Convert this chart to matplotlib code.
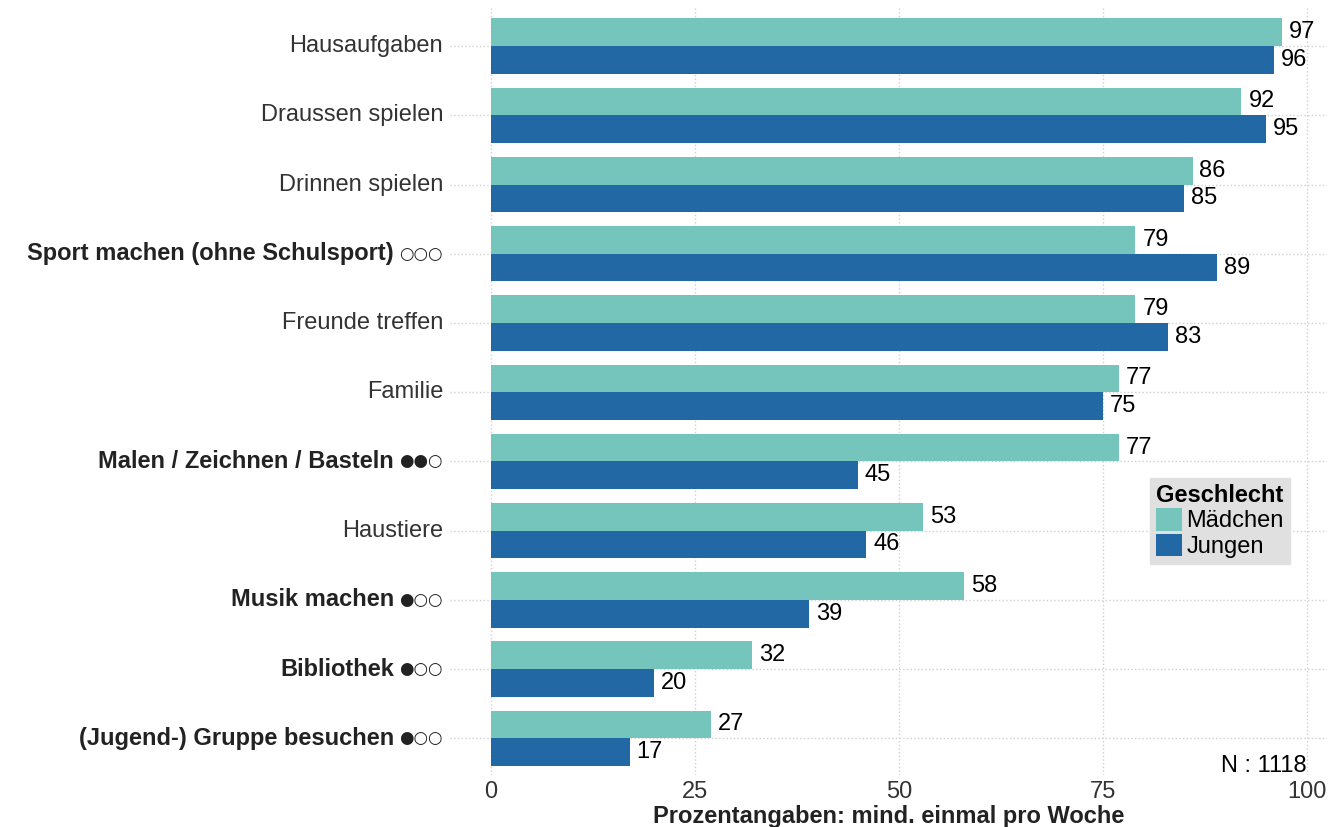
import matplotlib
matplotlib.use('Agg')
import matplotlib.pyplot as plt
import numpy as np

plt.rcParams['font.family'] = ['Liberation Sans', 'DejaVu Sans']

# Daten
aktivitaeten = ['Hausaufgaben', 'Draussen spielen', 'Drinnen spielen',
                'Sport machen (ohne Schulsport)', 'Freunde treffen', 'Familie',
                'Malen / Zeichnen / Basteln', 'Haustiere', 'Musik machen',
                'Bibliothek', '(Jugend-) Gruppe besuchen']
kreise = ['', '', '', '○○○', '', '', '●●○', '', '●○○', '●○○', '●○○']
maedchen = [97, 92, 86, 79, 79, 77, 77, 53, 58, 32, 27]
jungen = [96, 95, 85, 89, 83, 75, 45, 46, 39, 20, 17]
x_ticks = [0, 25, 50, 75, 100]

col_m = '#76c5bc'
col_j = '#2268a4'
fs = 17

fig = plt.figure(figsize=(13.29, 8.27), dpi=100)
ax = fig.add_axes([0.3386, 0.0629, 0.6600, 0.9274])

idx = np.arange(len(aktivitaeten))
h = 0.4
ax.barh(idx - h/2, maedchen, h, color=col_m, label='Mädchen', zorder=2)
ax.barh(idx + h/2, jungen, h, color=col_j, label='Jungen', zorder=2)

for i in idx:
    ax.annotate(str(maedchen[i]), (maedchen[i], i - h/2), xytext=(5, 0),
                textcoords='offset points', va='center', ha='left', fontsize=fs)
    ax.annotate(str(jungen[i]), (jungen[i], i + h/2), xytext=(5, 0),
                textcoords='offset points', va='center', ha='left', fontsize=fs)

ax.set_xlim(-5, 102.5)
ax.set_ylim(10.53, -0.55)
ax.set_xticks(x_ticks)
ax.set_xticklabels([str(t) for t in x_ticks], fontsize=fs, color='#333333')
ax.set_yticks(idx)
ax.set_yticklabels([])
ax.tick_params(length=0, pad=4)
for s in ax.spines.values():
    s.set_visible(False)
ax.grid(True, linestyle=':', color='#d0d0d0', linewidth=1, zorder=0)
ax.set_axisbelow(True)

# Beschriftungen links: fette Texte mit Kreisen
for i, name in enumerate(aktivitaeten):
    if kreise[i]:
        t = ax.annotate(kreise[i], xy=(0, i), xycoords=('axes fraction', 'data'),
                        xytext=(-5, 0), textcoords='offset points',
                        ha='right', va='center', fontsize=12,
                        family=['DejaVu Sans'], color='#222222')
        ax.annotate(name, xy=(0, 0.5), xycoords=t, xytext=(-4, 0),
                    textcoords='offset points', ha='right', va='center',
                    fontsize=fs, fontweight='bold', color='#222222')
    else:
        ax.annotate(name, xy=(0, i), xycoords=('axes fraction', 'data'),
                    xytext=(-5, 0), textcoords='offset points',
                    ha='right', va='center', fontsize=fs, color='#333333')

ax.set_xlabel('Prozentangaben: mind. einmal pro Woche', fontsize=fs,
              fontweight='bold', color='#222222', labelpad=2)

ax.text(100, 10.4, 'N : 1118', ha='right', va='center', fontsize=fs)

leg = ax.legend(title='Geschlecht', loc='upper left',
                bbox_to_anchor=(1150 / 1329, 1 - 478 / 827),
                bbox_transform=fig.transFigure, fontsize=fs,
                title_fontproperties={'weight': 'bold', 'size': fs},
                frameon=True, fancybox=False, facecolor='#e0e0e0',
                edgecolor='#e0e0e0', framealpha=1, handlelength=1.1,
                handleheight=1.1, handletextpad=0.2, borderpad=0.25,
                labelspacing=0.05, borderaxespad=0)
leg._legend_box.align = 'left'

fig.savefig('out.png', dpi=100)
